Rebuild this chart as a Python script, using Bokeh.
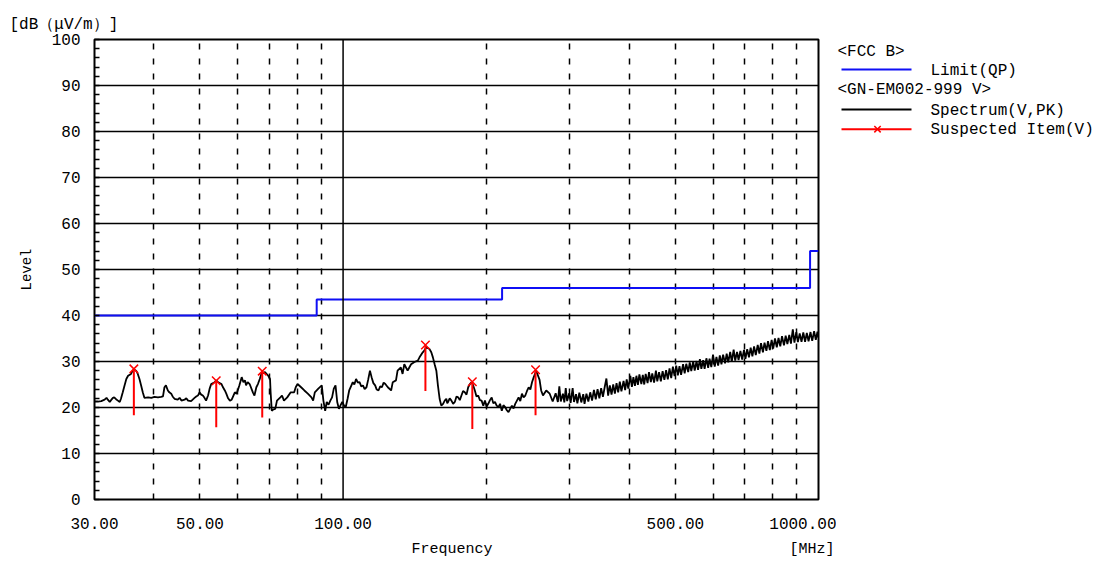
from bokeh.plotting import figure
from bokeh.models import (Range1d, FixedTicker, SingleIntervalTicker,
                          PrintfTickFormatter, Span)
from bokeh.layouts import row
from bokeh.core.properties import value
from bokeh.embed import file_html
from bokeh.resources import INLINE

FONT = "Liberation Mono"

# ---------------- data ----------------
x_tick_values = [30, 50, 100, 500, 1000]
y_tick_interval = 10
minor_grid_freqs = [40, 50, 60, 70, 80, 90, 200, 300, 400, 500, 600, 700, 800, 900]
major_grid_freq = 100
y_grid_levels = [10, 20, 30, 40, 50, 60, 70, 80, 90]

limit_freq = [30, 88, 216, 960, 1000]
limit_level = [40, 43.5, 46, 54, 54]

spec_freq = [
    30.0, 30.5, 31.0, 31.5, 31.8, 32.0, 32.3, 32.5, 32.8, 33.0, 33.3, 33.6, 33.9,
    34.1, 34.4, 34.7, 35.0, 35.3, 35.8, 36.1, 36.4, 36.7, 37.0, 37.3, 37.6, 37.9,
    38.2, 38.9, 39.5, 40.1, 40.8, 41.4, 41.8, 42.1, 42.4, 42.8, 43.1, 43.5, 43.8,
    44.2, 44.9, 45.3, 45.7, 46.4, 46.8, 47.2, 47.9, 48.7, 49.1, 49.5, 49.9, 50.3,
    50.7, 51.1, 51.5, 52.0, 52.4, 52.8, 53.7, 54.1, 54.6, 55.5, 55.9, 56.4, 56.8,
    57.3, 57.8, 58.3, 58.8, 59.2, 59.7, 60.2, 60.5, 61.2, 61.7, 62.2, 62.5, 63.0,
    63.6, 64.6, 65.1, 65.7, 66.2, 66.8, 67.3, 68.5, 69.6, 70.2, 70.4, 70.8, 71.4,
    72.0, 72.6, 73.8, 74.4, 75.1, 76.3, 77.6, 78.9, 79.5, 80.2, 81.6, 82.9, 84.3,
    85.8, 86.5, 87.2, 88.7, 90.2, 90.9, 91.7, 92.4, 93.2, 94.0, 94.8, 95.6, 96.4,
    97.2, 98.0, 98.8, 99.6, 100.5, 101.3, 102.2, 103.0, 103.9, 104.8, 105.6, 106.5,
    107.4, 108.3, 109.2, 110.1, 111.0, 112.0, 112.9, 113.9, 114.8, 115.8, 116.8,
    117.7, 118.7, 119.7, 120.7, 121.7, 122.7, 124.2, 126.2, 127.2, 129.2, 130.2,
    132.3, 133.4, 134.5, 136.7, 137.8, 139.0, 141.3, 143.6, 144.8, 147.1, 148.3,
    149.6, 152.0, 153.3, 154.5, 155.8, 157.1, 158.3, 159.6, 160.9, 162.3, 163.6,
    164.9, 165.6, 166.3, 167.6, 169.0, 170.4, 171.8, 173.2, 174.6, 176.0, 177.4,
    178.8, 180.3, 181.8, 183.3, 184.8, 186.3, 187.8, 189.3, 190.8, 192.4, 194.0,
    195.6, 197.2, 198.8, 200.4, 202.0, 203.7, 205.4, 207.0, 208.7, 210.4, 212.2,
    213.9, 215.7, 217.4, 219.2, 221.0, 222.8, 224.6, 226.5, 228.3, 230.2, 232.1,
    234.0, 235.9, 237.8, 239.7, 241.7, 243.7, 245.7, 247.7, 249.7, 251.8, 254.8,
    259.0, 261.0, 263.3, 267.5,
    272, 276, 280, 283, 285, 287, 290, 292, 294, 296, 299, 301, 304, 306, 309,
    311, 314, 317, 320, 322, 325, 328, 331, 334, 337, 340, 343, 346, 349, 352,
    355, 358, 361, 364, 367, 370, 373, 376, 379, 382, 385, 389, 392, 395, 398,
    402, 405, 408, 411, 414, 417, 420, 424, 427, 430, 433, 437, 440, 444, 447,
    451, 455, 458, 462, 466, 470, 474, 478, 482, 486, 490, 494, 498, 502, 506,
    510, 514, 519, 523, 527, 532, 536, 540, 545, 549, 554, 558, 563, 567, 572,
    576, 581, 586, 590, 595, 600, 605, 610, 615, 620, 625, 630, 636, 641, 646,
    652, 657, 663, 668, 674, 679, 685, 691, 697, 702, 708, 714, 720, 726, 732,
    738, 745, 751, 757, 764, 770, 777, 783, 790, 797, 803, 810, 817, 824, 831,
    838, 846, 853, 860, 868, 875, 883, 890, 898, 905, 913, 921, 929, 937, 945,
    953, 962, 970, 979, 987, 995, 1000,
]
spec_level = [
    21.3, 21.3, 21.4, 21.7, 22.1, 21.7, 21.2, 21.6, 22.1, 22.2, 21.8, 21.5, 21.2,
    21.9, 23.3, 24.8, 26.2, 26.9, 27.3, 28.0, 28.2, 28.0, 27.3, 26.2, 24.8, 23.3,
    22.1, 22.2, 22.1, 22.3, 22.2, 22.3, 22.4, 24.4, 24.8, 23.7, 23.3, 23.0, 22.4,
    21.9, 21.7, 22.1, 21.5, 21.7, 22.0, 21.5, 21.4, 22.1, 22.4, 22.6, 23.3, 22.8,
    22.6, 22.1, 21.5, 22.6, 24.1, 25.1, 25.5, 25.9, 25.5, 25.1, 24.4, 23.7, 23.0,
    22.0, 21.5, 21.7, 22.6, 23.3, 23.0, 24.1, 24.8, 26.6, 25.5, 25.9, 24.8, 25.5,
    25.1, 23.3, 22.6, 24.4, 25.1, 26.2, 27.3, 27.7, 26.9, 26.2, 23.3, 19.3, 19.6,
    19.7, 21.5, 22.2, 22.6, 21.5, 22.2, 23.3, 23.3, 24.4, 25.1, 24.4, 23.7, 23.0,
    22.2, 21.5, 23.3, 24.1, 24.8, 21.5, 19.3, 21.2, 20.6, 21.5, 22.2, 24.1, 24.8,
    21.2, 19.7, 20.5, 21.2, 20.4, 20.1, 21.9, 23.7, 24.6, 25.5, 25.0, 26.2,
    25.4, 25.5, 24.6, 24.8, 24.0, 24.4, 26.0, 28.0, 26.6, 25.3, 24.8,
    23.9, 23.7, 24.6, 24.4, 25.4, 25.1, 24.4, 23.7, 25.5, 25.9, 28.0,
    28.7, 27.3, 29.4, 28.0, 28.7, 29.4, 29.9, 30.2, 30.9, 32.0, 32.4,
    33.1, 32.7, 32.0, 30.9, 29.4, 28.0, 24.8, 21.9, 20.4, 20.8, 21.5,
    21.9, 20.9, 21.2, 22.0, 21.5, 20.8, 21.2, 22.4, 22.2, 21.6, 22.6,
    23.6, 23.3, 22.8, 24.4, 25.1, 25.5, 24.8, 23.7, 22.4, 22.6, 21.6,
    21.5, 20.4, 21.5, 20.2, 20.8, 21.6, 22.2, 20.9, 21.2, 20.4, 20.1,
    20.8, 19.3, 20.5, 20.1, 19.4, 19.0, 19.7, 20.4, 19.8, 20.8, 21.5,
    22.2, 21.4, 23.0, 22.2, 22.6, 23.6, 24.4, 23.9, 25.5, 26.6, 28.0,
    26.0, 23.7, 22.6, 23.7,
    23.0, 21.3, 23.1, 21.2, 24.6, 21.3, 23.0, 21.1, 24.2, 21.4, 23.1, 21.0, 24.2, 21.2, 22.9,
    20.9, 23.2, 21.1, 22.9, 20.8, 23.0, 21.3, 23.3, 21.5, 23.8, 21.8, 24.0, 22.0, 24.2, 22.3,
    24.4, 26.3, 22.6, 24.8, 22.8, 25.0, 23.0, 25.3, 23.3, 25.6, 23.5, 25.8, 23.8, 26.1, 24.1,
    26.9, 24.5, 26.6, 24.7, 26.9, 24.9, 27.2, 25.1, 27.1, 25.0, 27.3, 25.3, 27.7, 25.5, 27.4,
    25.4, 28.0, 25.7, 27.7, 25.7, 27.9, 26.0, 28.1, 26.1, 28.5, 26.4, 28.9, 26.8, 29.1, 27.0,
    29.0, 27.1, 29.4, 27.4, 29.5, 27.7, 29.8, 27.9, 30.0, 28.0, 30.1, 28.2, 30.5, 28.4, 30.3,
    28.4, 30.7, 28.6, 30.6, 28.8, 31.5, 28.9, 31.0, 29.1, 31.3, 29.4, 31.5, 29.6, 31.7, 29.8,
    32.1, 29.9, 32.6, 30.2, 32.1, 30.3, 32.3, 30.4, 32.5, 30.6, 32.7, 30.9, 33.0, 31.1, 33.3,
    31.4, 33.6, 31.7, 34.0, 32.0, 34.1, 32.3, 34.4, 32.5, 34.7, 32.8, 35.0, 33.1, 35.1, 33.3,
    35.5, 33.5, 35.6, 33.8, 35.8, 33.9, 37.0, 34.1, 36.4, 34.2, 36.1, 34.3, 36.3, 34.3, 36.2,
    34.4, 36.4, 34.5, 36.6, 34.7, 36.5, 35.2,
]

suspect_freq = [36.3, 54.1, 67.6, 149.0, 187.0, 254.0]
suspect_peak = [28.4, 25.8, 27.9, 33.6, 25.6, 28.2]
suspect_base = [18.3, 15.7, 17.8, 23.6, 15.3, 18.3]

legend_headers = ["<FCC B>", "<GN-EM002-999 V>"]
legend_labels = ["Limit(QP)", "Spectrum(V,PK)", "Suspected Item(V)"]

y_unit = "[dB（μV/m）]"
x_name = "Frequency"
x_unit = "[MHz]"

BLUE = "#0f0ff5"
RED = "#ff0000"
NB = "\u00a0"

# ---------------- main chart ----------------
p = figure(x_axis_type="log", x_range=Range1d(30, 1000), y_range=Range1d(0, 100),
           frame_width=724, frame_height=460,
           min_border_left=94, min_border_top=39, min_border_right=18, min_border_bottom=64,
           output_backend="svg", toolbar_location=None,
           background_fill_color="white", border_fill_color="white")

p.outline_line_color = "black"
p.outline_line_width = 2

# title used as the y unit caption (top-left)
p.title.text = y_unit
p.title.align = "left"
p.title.offset = -85
p.title.standoff = 12
p.title.text_font = FONT
p.title.text_font_size = "16px"
p.title.text_font_style = "normal"
p.title.text_color = "black"

# grids
p.ygrid.ticker = FixedTicker(ticks=y_grid_levels)
p.ygrid.grid_line_color = "black"
p.ygrid.grid_line_width = 1.5
p.xgrid.ticker = FixedTicker(ticks=minor_grid_freqs)
p.xgrid.grid_line_color = "black"
p.xgrid.grid_line_width = 1.5
p.xgrid.grid_line_dash = "6 9"
p.add_layout(Span(location=major_grid_freq, dimension="height",
                  line_color="black", line_width=1.5))

# x axis
p.xaxis.ticker = FixedTicker(ticks=x_tick_values, minor_ticks=[])
p.xaxis.formatter = PrintfTickFormatter(format="%.2f")
p.xaxis.major_tick_in = 0
p.xaxis.major_tick_out = 0
p.xaxis.minor_tick_in = 0
p.xaxis.minor_tick_out = 0
p.xaxis.axis_line_color = "black"
p.xaxis.major_label_standoff = 18
p.xaxis.axis_label = NB * 37 + x_name + NB * 33 + x_unit
p.xaxis.axis_label_standoff = 9

# y axis
p.yaxis.ticker = SingleIntervalTicker(interval=y_tick_interval, num_minor_ticks=5)
p.yaxis.major_tick_in = 0
p.yaxis.major_tick_out = 0
p.yaxis.minor_tick_in = 5
p.yaxis.minor_tick_out = 0
p.yaxis.minor_tick_line_color = "black"
p.yaxis.minor_tick_line_width = 1.5
p.yaxis.axis_line_color = "black"
p.yaxis.major_label_standoff = 14
p.yaxis.axis_label = "Level"
p.yaxis.axis_label_standoff = 14

for ax in (p.xaxis, p.yaxis):
    ax.major_label_text_font = FONT
    ax.major_label_text_font_size = "16px"
    ax.major_label_text_color = "black"
    ax.axis_label_text_font = FONT
    ax.axis_label_text_font_style = "normal"
    ax.axis_label_text_color = "black"
p.xaxis.axis_label_text_font_size = "15px"
p.yaxis.axis_label_text_font_size = "14px"

# data
p.step(x=limit_freq, y=limit_level, mode="after", line_color=BLUE, line_width=2)
p.line(x=spec_freq, y=spec_level, line_color="black", line_width=1.8)
p.segment(x0=suspect_freq, y0=suspect_base, x1=suspect_freq, y1=suspect_peak,
          line_color=RED, line_width=2)
p.scatter(x=suspect_freq, y=suspect_peak, marker="x", size=12,
          line_color=RED, line_width=1.5)

# ---------------- legend panel (coordinates = page pixels) ----------------
lg = figure(frame_width=270, frame_height=460,
            min_border_left=0, min_border_right=0, min_border_top=39, min_border_bottom=64,
            x_range=Range1d(837, 1107), y_range=Range1d(499, 39),
            x_axis_location=None, y_axis_location=None,
            output_backend="svg", toolbar_location=None,
            background_fill_color="white", border_fill_color="white")
lg.grid.visible = False
lg.outline_line_color = None

lg.text(x=[838, 838], y=[51.7, 89.3], text=legend_headers,
        text_font=value(FONT), text_font_size="16px", text_color="black",
        text_baseline="middle", text_align="left")
lg.text(x=[931, 931, 931], y=[70, 110, 129.3], text=legend_labels,
        text_font=value(FONT), text_font_size="16px", text_color="black",
        text_baseline="middle", text_align="left")
lg.segment(x0=[842], y0=[69], x1=[912], y1=[69], line_color=BLUE, line_width=2)
lg.segment(x0=[842], y0=[109], x1=[912], y1=[109], line_color="black", line_width=2)
lg.segment(x0=[842], y0=[128.7], x1=[912], y1=[128.7], line_color=RED, line_width=2)
lg.scatter(x=[878], y=[128.7], marker="x", size=9, line_color=RED, line_width=1.5)

layout = row(p, lg)
open("out.html", "w").write(file_html(layout, INLINE))
